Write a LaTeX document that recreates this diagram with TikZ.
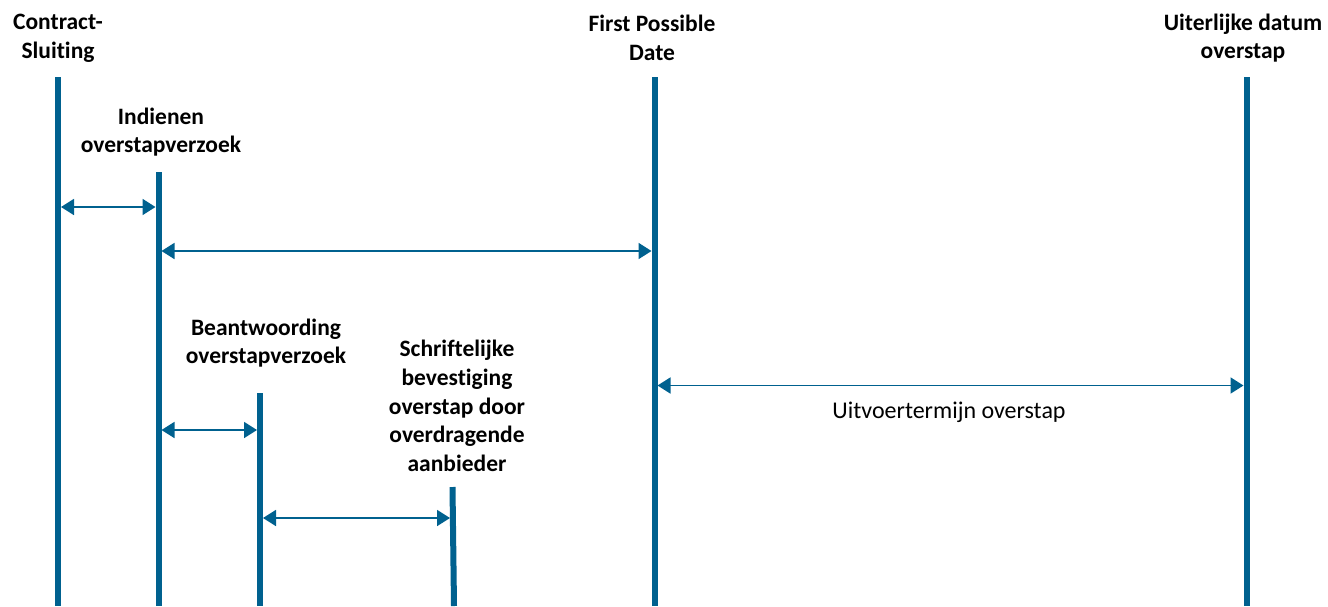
\documentclass[tikz,border=0pt]{standalone}
\usepackage{fontspec}
\setmainfont{Carlito}[Ligatures=NoCommon]
\usetikzlibrary{arrows.meta}
\definecolor{barblue}{HTML}{00618F}
\begin{document}
\begin{tikzpicture}[x=1pt,y=-1pt,
  bar/.style={draw=barblue,line width=6pt},
  span/.style={draw=barblue,line width=1.8pt,{Triangle[length=13pt,width=16pt]}-{Triangle[length=13pt,width=16pt]}},
  lbl/.style={font=\bfseries\fontsize{23.5}{28.8}\selectfont,align=center,inner sep=0pt},
  note/.style={font=\fontsize{24}{28}\selectfont,inner sep=0pt}]
\useasboundingbox (0,0) rectangle (1328,606);
% bar end points
\coordinate (b1t) at (58,77);   \coordinate (b1b) at (58,606);
\coordinate (b2t) at (158.5,172); \coordinate (b2b) at (158.5,606);
\coordinate (b3t) at (654.5,77);  \coordinate (b3b) at (654.5,606);
\coordinate (b4t) at (1246.5,77); \coordinate (b4b) at (1246.5,606);
\coordinate (b5t) at (260,393); \coordinate (b5b) at (260,606);
\coordinate (b6t) at (452.5,487); \coordinate (b6b) at (454,606);
\draw[bar] (b1t) -- (b1b);
\draw[bar] (b2t) -- (b2b);
\draw[bar] (b3t) -- (b3b);
\draw[bar] (b4t) -- (b4b);
\draw[bar] (b5t) -- (b5b);
\draw[bar] (b6t) -- (b6b);
% arrow end points on bar edges
\coordinate (a1l) at (61,207);    \coordinate (a1r) at (155.5,207);
\coordinate (a2l) at (161.5,251); \coordinate (a2r) at (651.5,251);
\coordinate (a3l) at (657.5,385.5); \coordinate (a3r) at (1243.5,385.5);
\coordinate (a4l) at (161.5,430); \coordinate (a4r) at (257,430);
\coordinate (a5l) at (263,518);   \coordinate (a5r) at (450,518);
\draw[span] (a1l) -- (a1r);
\draw[span] (a2l) -- (a2r);
\draw[span] (a3l) -- (a3r);
\draw[span] (a4l) -- (a4r);
\draw[span] (a5l) -- (a5r);
% labels
\node[lbl] (lcs) at (58,38) {Contract-\\Sluiting};
\node[lbl] (lio) at (161,132) {Indienen\\overstapverzoek};
\node[lbl] (lfp) at (652,38) {First Possible\\Date};
\node[lbl] (lud) at (1243,38) {Uiterlijke datum\\overstap};
\node[lbl] (lbo) at (266,343) {Beantwoording\\overstapverzoek};
\node[lbl] (lsb) at (457,406) {Schriftelijke\\bevestiging\\overstap door\\overdragende\\aanbieder};
\node[note] (luo) at (949,412) {Uitvoertermijn overstap};
\end{tikzpicture}
\end{document}
